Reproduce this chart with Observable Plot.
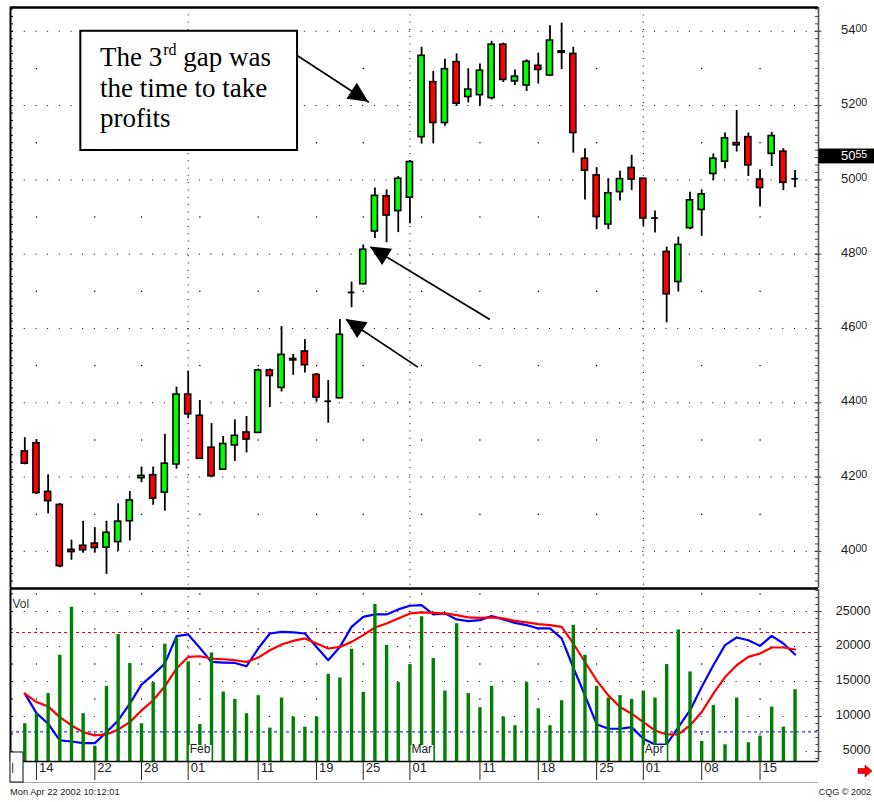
<!DOCTYPE html>
<html><head><meta charset="utf-8">
<script src="https://cdn.jsdelivr.net/npm/d3@7"></script>
<script src="https://cdn.jsdelivr.net/npm/@observablehq/plot@0.6"></script>
<style>
body{margin:0;background:#fff;width:874px;height:802px;position:relative;overflow:hidden;font-family:"Liberation Sans",Arial,sans-serif;}
#price{position:absolute;left:0;top:0;}
#vol{position:absolute;left:0;top:589px;}
#stamp{position:absolute;left:10px;top:787px;font-size:9.3px;color:#222;white-space:nowrap;}
#cqg{position:absolute;right:3px;top:787px;font-size:9px;color:#222;white-space:nowrap;}
#nextArrow{position:absolute;left:856px;top:763px;}
</style></head>
<body>
<div id="price"></div>
<div id="vol"></div>
<div id="stamp">Mon Apr 22 2002 10:12:01</div>
<div id="cqg">CQG © 2002</div>
<svg id="nextArrow" width="18" height="16"><path d="M2,5.5H9V2L16,8L9,14V10.5H2Z" fill="#ff0000" stroke="#b00000" stroke-width="0.6"/></svg>
<script>
// ---------------- data ----------------
const dates = ["2002-01-11","2002-01-14","2002-01-15","2002-01-16","2002-01-17","2002-01-18","2002-01-22","2002-01-23","2002-01-24","2002-01-25","2002-01-28","2002-01-29","2002-01-30","2002-01-31",
"2002-02-01","2002-02-04","2002-02-05","2002-02-06","2002-02-07","2002-02-08","2002-02-11","2002-02-12","2002-02-13","2002-02-14","2002-02-15","2002-02-19","2002-02-20","2002-02-21","2002-02-22","2002-02-25","2002-02-26","2002-02-27","2002-02-28",
"2002-03-01","2002-03-04","2002-03-05","2002-03-06","2002-03-07","2002-03-08","2002-03-11","2002-03-12","2002-03-13","2002-03-14","2002-03-15","2002-03-18","2002-03-19","2002-03-20","2002-03-21","2002-03-22","2002-03-25","2002-03-26","2002-03-27","2002-03-28",
"2002-04-01","2002-04-02","2002-04-03","2002-04-04","2002-04-05","2002-04-08","2002-04-09","2002-04-10","2002-04-11","2002-04-12","2002-04-15","2002-04-16","2002-04-17","2002-04-18"];
const open  = [4269,4291,4160,4125,4004,4015,4021,4010,4025,4081,4197,4205,4158,4234,4422,4365,4279,4220,4285,4320,4319,4487,4440,4518,4538,4475,4404,4412,4697,4719,4861,4956,4916,4952,5115,5263,5153,5317,5223,5228,5220,5364,5265,5254,5307,5281,5346,5339,5057,5012,4880,4967,5032,5003,4897,4806,4725,4870,4919,5016,5049,5099,5115,5001,5070,5076,5003];
const high  = [4306,4301,4206,4129,4030,4081,4064,4081,4128,4161,4227,4227,4315,4442,4485,4406,4344,4309,4354,4363,4491,4491,4605,4530,4570,4479,4460,4624,4725,4825,4978,4973,5009,5052,5357,5292,5325,5339,5299,5312,5373,5368,5296,5323,5341,5415,5422,5357,5084,5033,5003,5023,5066,5005,4916,4819,4846,4967,4973,5070,5126,5187,5126,5027,5128,5084,5025];
const low   = [4233,4153,4101,3956,3976,3995,3995,3938,4000,4028,4185,4124,4108,4221,4357,4247,4200,4218,4242,4265,4317,4387,4429,4474,4480,4402,4345,4411,4656,4718,4842,4831,4858,4882,5097,5097,5144,5198,5207,5198,5215,5262,5254,5238,5258,5278,5297,5072,4946,4866,4866,4943,4971,4875,4857,4615,4698,4866,4848,4998,5030,5075,5009,4927,5036,4971,4979];
const close = [4236,4157,4135,3960,3998,4003,4009,4050,4080,4137,4203,4142,4236,4422,4369,4249,4202,4289,4311,4301,4487,4472,4529,4514,4501,4414,4404,4583,4697,4812,4957,4904,5003,5048,5334,5153,5298,5205,5243,5294,5364,5269,5278,5318,5296,5375,5342,5126,5025,4900,4964,5002,5001,4896,4897,4692,4825,4945,4961,5057,5112,5093,5039,4978,5118,4992,5003];
const volume = [8970,10400,13270,18750,25600,10400,5760,14300,21700,17560,8970,14840,20330,21230,17800,8870,19080,13500,12450,10400,12980,8340,12640,9910,8490,9910,16030,15500,19610,13450,26020,20140,14840,17420,24240,18280,13640,23240,13270,11260,14310,9910,8680,14840,11110,8680,12260,23050,18750,14310,12640,12980,12450,13640,12640,17420,22340,16370,6430,11590,5960,12640,6250,7200,11350,8490,13830];
const volFast = [13270,10490,8970,6580,6430,6190,6190,7770,9440,11830,14560,15990,17560,21480,21720,19800,17790,17710,17650,17180,19710,21860,22090,22010,21860,19940,18040,19940,22810,24240,24580,24580,25300,25820,25920,24580,24730,23870,23620,23770,24340,23870,23380,23050,22580,22580,21150,17000,13000,8900,8250,8250,8480,6820,6000,6000,8480,10870,14210,17320,20190,21290,20900,20090,21520,20430,18850];
const volSlow = [13270,12060,11450,9910,8720,7770,7290,7440,8150,9200,10870,12310,14310,16850,18510,18610,18280,18180,18040,17790,18420,19470,20290,20800,21150,20430,19710,19940,20660,21620,22720,23290,24010,24730,24870,24810,24730,24480,24150,24100,24150,24010,23670,23440,23190,23050,22810,20430,17790,15170,13020,11350,10400,9200,8010,7440,7440,8720,10630,13270,15640,17320,18510,19000,19860,19860,19570];
const priceTicks = [4000,4200,4400,4600,4800,5000,5200,5400];
const priceHalfTicks = [4100,4300,4500,4700,4900,5100,5300];
const volTicks = [5000,10000,15000,20000,25000];
const volHalfTicks = [7500,12500,17500,22500,27500];
const dayTickDates  = ["2002-01-14","2002-01-22","2002-01-28","2002-02-01","2002-02-11","2002-02-19","2002-02-25","2002-03-01","2002-03-11","2002-03-18","2002-03-25","2002-04-01","2002-04-08","2002-04-15"];
const dayTickLabels = ["14","22","28","01","11","19","25","01","11","18","25","01","08","15"];
const weekStartDates = ["2002-01-14","2002-01-22","2002-01-28","2002-02-04","2002-02-11","2002-02-19","2002-02-25","2002-03-04","2002-03-11","2002-03-18","2002-03-25","2002-04-08","2002-04-15"];
const monthStartDates = ["2002-02-01","2002-03-01","2002-04-01"];
const monthLabels = ["Feb","Mar","Apr"];
const lastPrice = 5055;
const volUpperLevel = 22000;
const volLowerLevel = 7800;
// annotation (in bar-index / price units)
const noteBox = {x1: 4.8, x2: 23.37, y1: 5079, y2: 5400};
const noteX = 6.49;
const noteBaselines = [5305, 5222, 5141];
const noteLine1 = ["The 3", "rd", " gap was"];
const noteLine2 = "the time to take";
const noteLine3 = "profits";
const arrows = [
  {x1: 23.34, y1: 5335, x2: 29.48, y2: 5209},
  {x1: 39.85, y1: 4624, x2: 29.62, y2: 4819},
  {x1: 33.68, y1: 4496, x2: 27.54, y2: 4624}
];

// ---------------- helpers ----------------
const idx = d => dates.indexOf(d);
const X_DOMAIN = [-1.225, 68.01];
const P_DOMAIN = [3900, 5464];
const V_DOMAIN = [3571, 28143];
const FONT = '"Liberation Sans", Arial, sans-serif';
const candles = dates.map((d, i) => ({i, o: open[i], h: high[i], l: low[i], c: close[i]}));
const weekIdx = weekStartDates.map(idx);
const monthIdx = monthStartDates.map(idx);
const dayTicks = dayTickDates.map((d, k) => ({i: idx(d), label: dayTickLabels[k]}));
const months = monthStartDates.map((d, k) => ({i: idx(d), label: monthLabels[k]}));
const cross = (xs, ys) => xs.flatMap(x => ys.map(y => ({x, y})));

function arrowHeadMark(list) {
  return (index, scales) => {
    const g = d3.create("svg:g");
    for (const a of list) {
      const x1 = scales.x(a.x1), y1 = scales.y(a.y1), x2 = scales.x(a.x2), y2 = scales.y(a.y2);
      const ang = Math.atan2(y2 - y1, x2 - x1);
      const L = 20, W = 9.5;
      const bx = x2 - L * Math.cos(ang), by = y2 - L * Math.sin(ang);
      const px = -Math.sin(ang) * W, py = Math.cos(ang) * W;
      g.append("path").attr("d", `M${x2},${y2}L${bx + px},${by + py}L${bx - px},${by - py}Z`).attr("fill", "#000");
    }
    return g.node();
  };
}
function noteTextMark() {
  return (index, scales) => {
    const g = d3.create("svg:g")
      .attr("font-family", '"Liberation Serif","Times New Roman",serif')
      .attr("font-size", 27).attr("fill", "#000").attr("text-anchor", "start");
    const x = scales.x(noteX);
    const t1 = g.append("text").attr("x", x).attr("y", scales.y(noteBaselines[0]));
    t1.append("tspan").text(noteLine1[0]);
    t1.append("tspan").attr("font-size", 16).attr("dy", -11).attr("dx", 1).text(noteLine1[1]);
    t1.append("tspan").attr("dy", 11).text(noteLine1[2]);
    g.append("text").attr("x", x).attr("y", scales.y(noteBaselines[1])).text(noteLine2);
    g.append("text").attr("x", x).attr("y", scales.y(noteBaselines[2])).text(noteLine3);
    return g.node();
  };
}

// ---------------- price panel ----------------
const priceMinor = d3.range(3920, 5461, 20);
const price = Plot.plot({
  width: 874, height: 589,
  marginLeft: 10, marginRight: 56, marginTop: 7, marginBottom: 1,
  style: {background: "#fff", fontFamily: FONT, overflow: "visible"},
  x: {domain: X_DOMAIN, axis: null},
  y: {domain: P_DOMAIN, axis: null},
  marks: [
    Plot.ruleY(priceTicks, {stroke: "#000", strokeWidth: 1, strokeDasharray: "1 10.67", strokeDashoffset: -2.1}),
    Plot.dot(cross(weekIdx, priceHalfTicks), {x: "x", y: "y", r: 0.75, fill: "#000"}),
    Plot.ruleX(monthIdx, {stroke: "#000", strokeWidth: 1, strokeDasharray: "1 6.3"}),
    // candles
    Plot.ruleX(candles, {x: "i", y1: "l", y2: "h", stroke: "#000", strokeWidth: 1.8}),
    Plot.rect(candles.filter(d => d.o !== d.c), {
      x1: d => d.i - 0.26, x2: d => d.i + 0.26, y1: "o", y2: "c",
      fill: d => d.c > d.o ? "#00ff00" : "#ff0000", stroke: "#000", strokeWidth: 1.6
    }),
    Plot.ruleY(candles.filter(d => d.o === d.c), {y: "o", x1: d => d.i - 0.28, x2: d => d.i + 0.28, stroke: "#000", strokeWidth: 1.8}),
    // annotation
    Plot.rect([noteBox], {x1: "x1", x2: "x2", y1: "y1", y2: "y2", fill: "#fff", stroke: "#000", strokeWidth: 2}),
    noteTextMark(),
    Plot.link(arrows, {x1: "x1", y1: "y1", x2: "x2", y2: "y2", stroke: "#000", strokeWidth: 1.7}),
    arrowHeadMark(arrows),
    // frame and axis ticks
    Plot.ruleY(priceMinor, {x1: X_DOMAIN[0], x2: X_DOMAIN[0] + 0.26, stroke: "#000", strokeWidth: 1}),
    Plot.ruleY(priceMinor, {x1: X_DOMAIN[1] - 0.26, x2: X_DOMAIN[1], stroke: "#444", strokeWidth: 1}),
    Plot.ruleY(priceTicks, {x1: X_DOMAIN[1] - 0.3, x2: X_DOMAIN[1] + 0.3, stroke: "#444", strokeWidth: 1}),
    Plot.ruleY([P_DOMAIN[1]], {stroke: "#000", strokeWidth: 2.4}),
    Plot.ruleY([P_DOMAIN[0]], {stroke: "#000", strokeWidth: 2.4}),
    Plot.ruleX([X_DOMAIN[0]], {stroke: "#000", strokeWidth: 2}),
    Plot.ruleX([X_DOMAIN[1]], {stroke: "#555", strokeWidth: 1.6}),
    // right axis labels (CQG style: last two digits smaller)
    Plot.text(priceTicks, {y: d => d, text: d => String(d).slice(0, 2), frameAnchor: "right", textAnchor: "end", dx: 37, dy: -1.5, fontSize: 13, fill: "#222"}),
    Plot.text(priceTicks, {y: d => d, text: d => String(d).slice(2), frameAnchor: "right", textAnchor: "start", dx: 37, dy: -2.5, fontSize: 10.5, fill: "#222"}),
    // last price box
    Plot.rect([lastPrice], {x1: X_DOMAIN[1] + 0.05, x2: X_DOMAIN[1] + 4.8, y1: d => d - 12, y2: d => d + 28, fill: "#000"}),
    Plot.text([lastPrice], {y: d => d, text: d => String(d).slice(0, 2), frameAnchor: "right", textAnchor: "end", dx: 37, dy: -4, fontSize: 13, fill: "#fff"}),
    Plot.text([lastPrice], {y: d => d, text: d => String(d).slice(2), frameAnchor: "right", textAnchor: "start", dx: 37, dy: -5, fontSize: 10.5, fill: "#fff"})
  ]
});
document.getElementById("price").appendChild(price);

// ---------------- volume panel ----------------
const PX = (V_DOMAIN[1] - V_DOMAIN[0]) / 172; // volume units per pixel
const volLeftTicks = d3.range(5000, 28001, 2500);
const volRightTicks = d3.range(4000, 28001, 1000);
const vol = Plot.plot({
  width: 874, height: 213,
  marginLeft: 10, marginRight: 56, marginTop: 0, marginBottom: 41,
  style: {background: "transparent", fontFamily: FONT, overflow: "visible"},
  x: {domain: X_DOMAIN, axis: null},
  y: {domain: V_DOMAIN, axis: null},
  marks: [
    Plot.ruleY(volTicks, {stroke: "#000", strokeWidth: 1, strokeDasharray: "1 10.67", strokeDashoffset: -2.1}),
    Plot.dot(cross(weekIdx, volHalfTicks), {x: "x", y: "y", r: 0.75, fill: "#000"}),
    Plot.ruleX(monthIdx, {stroke: "#000", strokeWidth: 1, strokeDasharray: "1 6.3"}),
    Plot.ruleY([volUpperLevel], {stroke: "#ff0000", strokeWidth: 1, strokeDasharray: "3 3"}),
    Plot.ruleY([volLowerLevel], {stroke: "#0000ff", strokeWidth: 1, strokeDasharray: "3 3"}),
    Plot.line(volFast, {x: (d, i) => i, y: d => d, stroke: "#0000ff", strokeWidth: 2.2, curve: "linear"}),
    Plot.line(volSlow, {x: (d, i) => i, y: d => d, stroke: "#ff0000", strokeWidth: 2.2, curve: "linear"}),
    Plot.ruleX(volume, {x: (d, i) => i, y1: V_DOMAIN[0], y2: d => d, stroke: "#008000", strokeWidth: 3.4}),
    // month labels with white backing
    Plot.rect(months, {x1: d => d.i + 0.1, x2: d => d.i + 2.05, y1: V_DOMAIN[0], y2: V_DOMAIN[0] + 16 * PX, fill: "#fff"}),
    Plot.text(months, {x: "i", text: "label", frameAnchor: "bottom", textAnchor: "start", dx: 1.5, dy: -8.5, fontSize: 12, fill: "#222"}),
    Plot.text(["Vol"], {text: d => d, frameAnchor: "top-left", textAnchor: "start", dx: 2, dy: 9.5, fontSize: 12, letterSpacing: 1, fill: "#333"}),
    // frame
    Plot.ruleY(volLeftTicks, {x1: X_DOMAIN[0], x2: X_DOMAIN[0] + 0.26, stroke: "#000", strokeWidth: 1}),
    Plot.ruleY(volRightTicks, {x1: X_DOMAIN[1] - 0.22, x2: X_DOMAIN[1], stroke: "#444", strokeWidth: 1}),
    Plot.ruleY(volTicks, {x1: X_DOMAIN[1] - 0.3, x2: X_DOMAIN[1] + 0.3, stroke: "#444", strokeWidth: 1}),
    Plot.ruleX([X_DOMAIN[0]], {stroke: "#000", strokeWidth: 2}),
    Plot.ruleX([X_DOMAIN[1]], {stroke: "#555", strokeWidth: 1.6}),
    Plot.ruleY([V_DOMAIN[0]], {stroke: "#000", strokeWidth: 1.4}),
    Plot.ruleY([V_DOMAIN[0] - 21 * PX], {x1: X_DOMAIN[0], x2: X_DOMAIN[1], stroke: "#aaa", strokeWidth: 1}),
    // date axis
    Plot.ruleX(dayTicks, {x: "i", y1: V_DOMAIN[0], y2: V_DOMAIN[0] - 19 * PX, stroke: "#222", strokeWidth: 1}),
    Plot.text(dayTicks, {x: "i", text: "label", frameAnchor: "bottom", textAnchor: "start", dx: 2.5, dy: 10.5, fontSize: 13, fill: "#222"}),
    // scroll widget at lower left
    Plot.rect([0], {x1: X_DOMAIN[0], x2: X_DOMAIN[0] + 13 / 11.67, y1: V_DOMAIN[0] - 21 * PX, y2: V_DOMAIN[0] + 9 * PX, fill: "#fff", stroke: "#333", strokeWidth: 1.2}),
    Plot.ruleX([X_DOMAIN[0] + 2.2 / 11.67], {y1: V_DOMAIN[0] - 12 * PX, y2: V_DOMAIN[0] - 2 * PX, stroke: "#333", strokeWidth: 1}),
    // right axis labels
    Plot.text(volTicks, {y: d => d, text: d => String(d), frameAnchor: "right", textAnchor: "end", dx: 52, dy: -1, fontSize: 12.5, fill: "#222"})
  ]
});
document.getElementById("vol").appendChild(vol);
</script>
</body></html>
